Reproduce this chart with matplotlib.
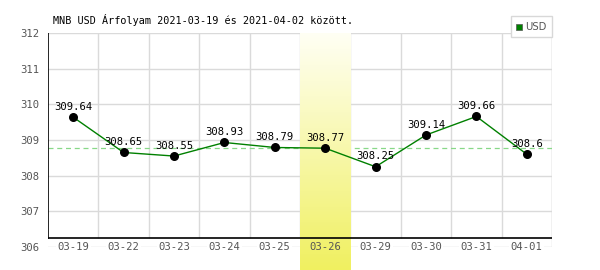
import matplotlib
matplotlib.use("Agg")
import matplotlib.pyplot as plt
import numpy as np
from matplotlib.colors import LinearSegmentedColormap
from matplotlib.patches import Rectangle

dates = ['03-19', '03-22', '03-23', '03-24', '03-25', '03-26',
         '03-29', '03-30', '03-31', '04-01']
usd = [309.64, 308.65, 308.55, 308.93, 308.79, 308.77,
       308.25, 309.14, 309.66, 308.6]
value_labels = ['309.64', '308.65', '308.55', '308.93', '308.79', '308.77',
                '308.25', '309.14', '309.66', '308.6']
highlight = '03-26'
y_ticks = [306, 307, 308, 309, 310, 311, 312]
title = 'MNB USD Árfolyam 2021-03-19 és 2021-04-02 között.'

plt.rcParams['font.family'] = ['DejaVu Sans Mono', 'DejaVu Sans']
FS = 7.6

fig = plt.figure(figsize=(6, 2.7), dpi=100)
ax = fig.add_axes([0.08, 23 / 270, 0.84, 214 / 270])
x = np.arange(len(dates))
ax.set_xlim(-0.5, len(dates) - 0.5)
ax.set_ylim(306, 312)
for s in ax.spines.values():
    s.set_visible(False)

grid = '#dadada'
axis_y = 306.25  # the black baseline sits a bit above 306
for v in y_ticks:
    ax.axhline(v, color=grid, lw=1, zorder=1)
ax.vlines(np.arange(0.5, len(dates), 1), axis_y, 312, color=grid, lw=1, zorder=1)
ax.vlines(len(dates) - 0.5, 306, 312, color=grid, lw=1, zorder=1)

# median line
ax.axhline(np.median(usd), color='#88d888', lw=0.9, ls=(0, (4, 3)), zorder=2)

# highlighted day with vertical gradient
hi = dates.index(highlight)
cmap = LinearSegmentedColormap.from_list('yel', ['#f0f060', '#fffff4'])
grad = np.linspace(0, 1, 256).reshape(-1, 1)
ax.imshow(grad, cmap=cmap, aspect='auto', origin='lower',
          extent=(hi - 0.5, hi + 0.5, 306 - 23 / 35.67, 312),
          zorder=3, clip_on=False)

# axes lines
ax.plot([-0.5, -0.5], [axis_y, 312], color='black', lw=1.2, zorder=5)
ax.plot([-0.5, len(dates) - 0.5], [axis_y, axis_y], color='black', lw=1.2, zorder=5)

ax.plot(x, usd, color='#008000', lw=1, zorder=6)
ax.scatter(x, usd, s=30, color='black', zorder=7)
for xi, v, lab in zip(x, usd, value_labels):
    ax.text(xi, v + 0.15, lab, ha='center', va='bottom', fontsize=FS,
            color='black', zorder=8)

ax.set_xticks([])
ax.set_yticks(y_ticks)
ax.set_yticklabels([str(v) for v in y_ticks], color='#555555', fontsize=FS)
ax.tick_params(axis='y', length=0, pad=6)
for xi, lab in zip(x, dates):
    bg = None if lab == highlight else dict(facecolor='white', edgecolor='none', pad=1)
    ax.text(xi, 306, lab, ha='center', va='center', fontsize=FS,
            color='#555555', bbox=bg, zorder=4)

fig.text(53 / 600, 1 - 20 / 270, title, ha='left', va='center',
         fontsize=7.3, color='black')

# legend box
fig.patches.append(Rectangle((511 / 600, 1 - 37 / 270), 41 / 600, 21 / 270,
                             transform=fig.transFigure, facecolor='white',
                             edgecolor='#d8d8d8', lw=1))
fig.patches.append(Rectangle((516 / 600, 1 - 30 / 270), 6 / 600, 6 / 270,
                             transform=fig.transFigure, facecolor='#008000',
                             edgecolor='#555555', lw=0.5))
fig.text(525 / 600, 1 - 27 / 270, 'USD', ha='left', va='center',
         fontsize=7.2, color='#555555', family='DejaVu Sans')

fig.savefig('out.png', dpi=100)
